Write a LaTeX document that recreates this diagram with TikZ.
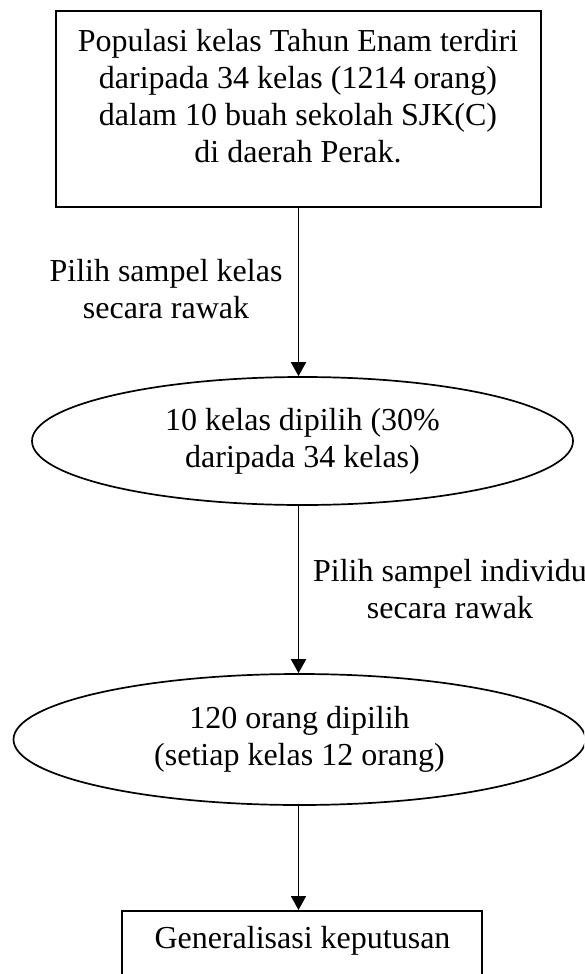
\documentclass[tikz,border=0pt]{standalone}
\usepackage{fontspec}
\setmainfont{Liberation Serif}
\usetikzlibrary{arrows.meta,shapes.geometric}
\begin{document}
\begin{tikzpicture}[x=1pt,y=-1pt,
  every node/.style={font=\fontsize{32}{37}\selectfont},
  frame/.style={draw, line width=1.9pt, rectangle, inner sep=0pt},
  oval/.style={draw, line width=1.7pt, ellipse, inner sep=0pt, align=center},
  txt/.style={inner sep=0pt, align=center},
  flow/.style={line width=1.8pt, -{Triangle[width=15pt,length=14pt]}}]
\useasboundingbox (0,0) rectangle (584,974);
\clip (0,0) rectangle (584,974);

% population box
\node[frame, minimum width=485pt, minimum height=196pt] (pop) at (298.5,109) {};
\node[txt] (poptext) at (298,96.5) {Populasi kelas Tahun Enam terdiri\\daripada 34 kelas (1214 orang)\\dalam 10 buah sekolah SJK(C)\\di daerah Perak.};

% selected classes and pupils
\node[oval, minimum width=541pt, minimum height=128pt] (kelas) at (302.5,441) {10 kelas dipilih (30\%\\daripada 34 kelas)};
\node[oval, minimum width=572pt, minimum height=131pt] (orang) at (299.5,739.5) {120 orang dipilih\\(setiap kelas 12 orang)};

% final box
\node[frame, minimum width=360pt, minimum height=100pt, anchor=north] (gen) at (302,910) {};
\node[txt, anchor=base] (gentext) at (302.5,948) {Generalisasi keputusan};

% step labels
\node[txt] (lab1) at (166,289.5) {Pilih sampel kelas\\secara rawak};
\node[txt] (lab2) at (450,589.5) {Pilih sampel individu\\secara rawak};

% connectors
\draw[flow] (pop.south) -- (pop.south |- kelas.north);
\draw[flow] (pop.south |- kelas.south) -- (pop.south |- orang.north);
\draw[flow] (pop.south |- orang.south) -- (gen.north -| pop.south);
\end{tikzpicture}
\end{document}
